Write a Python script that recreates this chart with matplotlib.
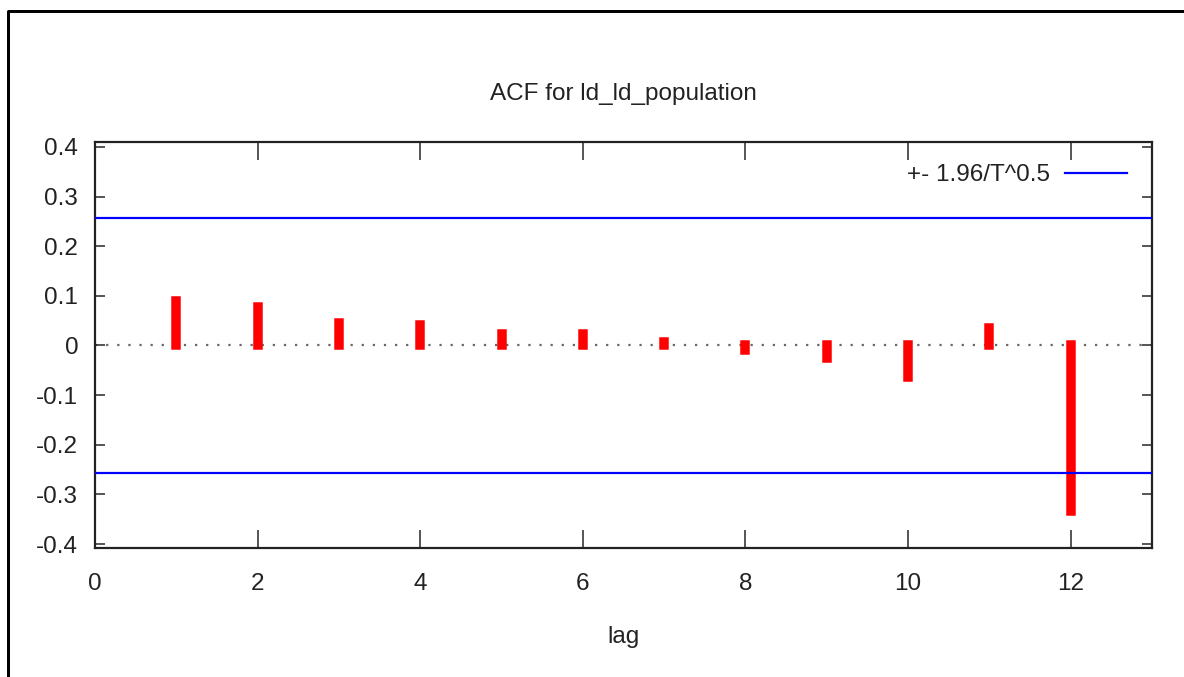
#!/usr/bin/env python3

import matplotlib
matplotlib.use("Agg")
import matplotlib.pyplot as plt
from matplotlib.lines import Line2D

# ACF values
lags = [1, 2, 3, 4, 5, 6, 7, 8, 9, 10, 11, 12]
acf = [0.090, 0.078, 0.046, 0.041, 0.024, 0.024, 0.007, -0.010, -0.025, -0.063, 0.035, -0.333]
conf_band = 0.2574  # 1.96 / sqrt(T)
title = "ACF for ld_ld_population"
legend_label = "+- 1.96/T^0.5"
x_ticks = [0, 2, 4, 6, 8, 10, 12]
y_ticks = [-0.4, -0.3, -0.2, -0.1, 0, 0.1, 0.2, 0.3, 0.4]

plt.rcParams["font.family"] = ["Liberation Sans", "DejaVu Sans"]
text_color = "#222222"

fig = plt.figure(figsize=(11.84, 6.77), dpi=100)
ax = fig.add_axes([95 / 1184, 1 - 548 / 677, (1152 - 95) / 1184, (548 - 142) / 677])

# zero line
ax.axhline(0, color="#666666", linestyle=(0, (1, 4)), lw=1.6, zorder=1)

# impulses
px = 72 / 100
ax.vlines(lags, 0, acf, color="#ff0000", lw=9.5 * px, capstyle="projecting", zorder=3)

# confidence band
ax.axhline(conf_band, color="#0000ff", lw=2.2 * px, zorder=4)
ax.axhline(-conf_band, color="#0000ff", lw=2.2 * px, zorder=4)

ax.set_xlim(0, 13)
ax.set_ylim(-0.408, 0.41)
ax.set_xticks(x_ticks)
ax.set_xticklabels([str(t) for t in x_ticks])
ax.set_yticks(y_ticks)
ax.set_yticklabels(["%g" % t for t in y_ticks])

ax.tick_params(axis="x", direction="in", length=18 * px, width=1.5 * px,
               top=True, colors=text_color, labelsize=17.5, pad=18)
ax.tick_params(axis="y", direction="in", length=10 * px, width=1.5 * px,
               right=True, colors=text_color, labelsize=17.5, pad=12)
for s in ax.spines.values():
    s.set_linewidth(2.2 * px)
    s.set_color("#222222")

ax.set_title(title, fontsize=17.5, color=text_color, pad=30)
ax.set_xlabel("lag", fontsize=17.5, color=text_color, labelpad=22)

# legend (gnuplot style, text then sample line)
ax.text(1050 / 1184, 1 - 175 / 677, legend_label, transform=fig.transFigure,
        ha="right", va="center", fontsize=17.5, color=text_color)
fig.add_artist(Line2D([1065 / 1184, 1127 / 1184], [1 - 173 / 677] * 2,
                      color="#0000ff", lw=2.2 * px))

# outer frame
fig.add_artist(Line2D([8 / 1184, 8 / 1184, 1.0], [0, 1 - 11 / 677, 1 - 11 / 677],
                      color="black", lw=3 * px))

fig.savefig("out.png", dpi=100)
